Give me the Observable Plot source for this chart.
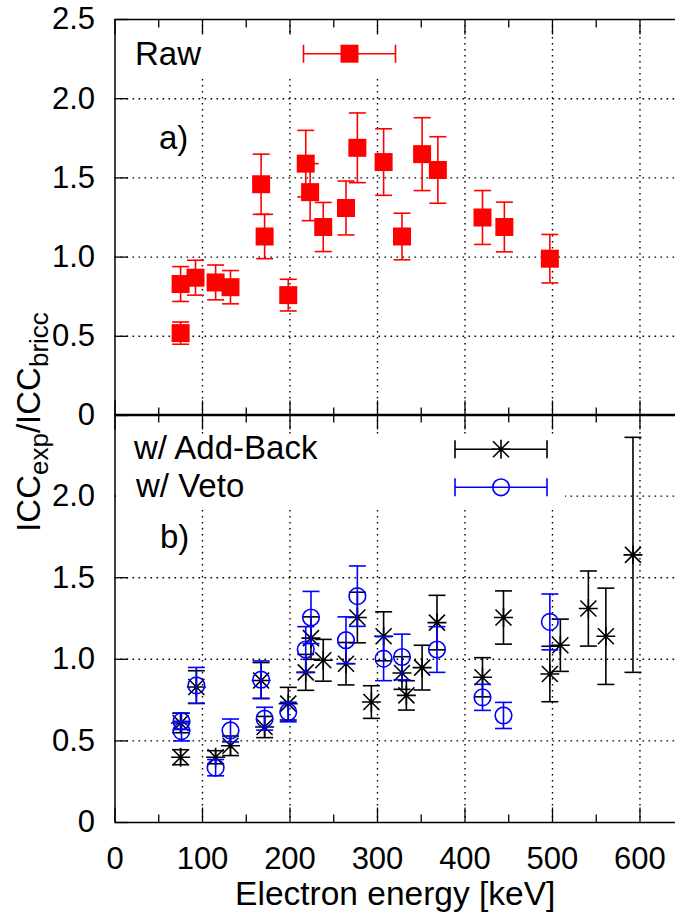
<!DOCTYPE html>
<html><head><meta charset="utf-8">
<script src="https://cdn.jsdelivr.net/npm/d3@7"></script>
<script src="https://cdn.jsdelivr.net/npm/@observablehq/plot@0.6"></script>
<style>
html,body{margin:0;padding:0;background:#fff;overflow:hidden;}
#wrap{position:relative;width:675px;height:920px;font-family:"Liberation Sans",Arial,sans-serif;}
#wrap > svg{position:absolute;left:0;}
</style></head><body><div id="wrap"></div>
<script>
// ---------- data ----------
// Panel a) Raw
const rawEnergy = [75, 75, 92, 115, 132, 167, 171, 198, 218, 223, 238, 264, 277, 307, 328, 351, 369, 420, 445, 497];
const rawValue  = [0.83, 0.52, 0.87, 0.84, 0.81, 1.46, 1.13, 0.76, 1.59, 1.41, 1.19, 1.31, 1.69, 1.60, 1.13, 1.65, 1.55, 1.25, 1.19, 0.99];
const rawError  = [0.11, 0.07, 0.11, 0.11, 0.105, 0.19, 0.14, 0.10, 0.21, 0.18, 0.155, 0.17, 0.22, 0.21, 0.147, 0.23, 0.21, 0.17, 0.157, 0.153];
// Panel b) w/ Add-Back
const addBackEnergy = [75, 75, 93, 115, 132, 167, 171, 198, 218, 224, 238, 264, 277, 293, 307, 328, 333, 351, 368, 420, 444, 497, 509, 541, 561, 592];
const addBackValue  = [0.61, 0.40, 0.83, 0.40, 0.47, 0.87, 0.585, 0.728, 0.92, 1.13, 0.994, 0.973, 1.256, 0.738, 1.141, 0.916, 0.779, 0.949, 1.225, 0.89, 1.256, 0.91, 1.086, 1.311, 1.141, 1.64];
const addBackError  = [0.06, 0.046, 0.10, 0.04, 0.06, 0.11, 0.065, 0.10, 0.11, 0.13, 0.128, 0.13, 0.155, 0.10, 0.15, 0.10, 0.09, 0.137, 0.167, 0.12, 0.163, 0.17, 0.16, 0.23, 0.295, 0.72];
// Panel b) w/ Veto
const vetoEnergy = [76, 76, 93, 115, 132, 167, 171, 198, 218, 224, 264, 277, 307, 328, 368, 420, 444, 497];
const vetoValue  = [0.62, 0.56, 0.84, 0.336, 0.564, 0.875, 0.636, 0.677, 1.06, 1.256, 1.117, 1.387, 1.004, 1.014, 1.06, 0.767, 0.656, 1.229];
const vetoError  = [0.05, 0.06, 0.11, 0.05, 0.07, 0.115, 0.07, 0.06, 0.14, 0.16, 0.143, 0.185, 0.135, 0.14, 0.14, 0.08, 0.08, 0.171];
// axes
const xMajorTicks = [0, 100, 200, 300, 400, 500, 600];
const xMinorTicks = [50, 150, 250, 350, 450, 550];
const yTicksTop = [0, 0.5, 1.0, 1.5, 2.0, 2.5];
const yTicksBottom = [0, 0.5, 1.0, 1.5, 2.0];
const xLabel = "Electron energy [keV]";
const seriesNames = ["Raw", "w/ Add-Back", "w/ Veto"];
const panelTags = ["a)", "b)"];

// ---------- helpers ----------
const FONT = '"Liberation Sans", Arial, sans-serif';
const FS = 31;
const W = 675;
const xDomain = [0, 640.6];
const yDomain = [0, 2.5];
const RED = "#ff0000", BLUE = "#0000ff", BLACK = "#000000";

const rows = (e, v, s) => e.map((d, i) => ({e: d, v: v[i], s: s[i]}));
const raw = rows(rawEnergy, rawValue, rawError);
const addBack = rows(addBackEnergy, addBackValue, addBackError);
const veto = rows(vetoEnergy, vetoValue, vetoError);

const sym = (fn) => ({draw(ctx) { fn(ctx); }});
const seg = (x1, y1, x2, y2) => sym(c => { c.moveTo(x1, y1); c.lineTo(x2, y2); });
const capSym = seg(-8.5, 0, 8.5, 0);
const squareSym = sym(c => { c.rect(-9, -9, 18, 18); });
const STAR_A = 9.5, STAR_B = 8;
const starSym = sym(c => {
  const a = STAR_A, b = STAR_B;
  c.moveTo(-a, 0); c.lineTo(a, 0); c.moveTo(0, -a); c.lineTo(0, a);
  c.moveTo(-b, -b); c.lineTo(b, b); c.moveTo(-b, b); c.lineTo(b, -b);
});

function errorMarks(data, color, marker, markerOpts) {
  return [
    Plot.ruleX(data, {x: "e", y1: d => d.v - d.s, y2: d => d.v + d.s, stroke: color, strokeWidth: 1.6}),
    Plot.dot(data, {x: "e", y: d => d.v + d.s, symbol: capSym, r: 1, stroke: color, strokeWidth: 1.6, fill: "none"}),
    Plot.dot(data, {x: "e", y: d => d.v - d.s, symbol: capSym, r: 1, stroke: color, strokeWidth: 1.6, fill: "none"}),
    Plot.dot(data, {x: "e", y: "v", symbol: marker, ...markerOpts})
  ];
}

function frameMarks(yTicks) {
  const grid = {stroke: BLACK, strokeWidth: 1.4, strokeDasharray: "1.6,4.4"};
  const tk = {stroke: BLACK, strokeWidth: 1.3, r: 1, fill: "none"};
  return [
    Plot.ruleX(xMajorTicks.filter(d => d > xDomain[0]), grid),
    Plot.ruleY(yTicks.filter(d => d > yDomain[0] && d < yDomain[1]), grid),
    Plot.ruleX([xDomain[0]], {stroke: BLACK, strokeWidth: 1.5}),
    Plot.ruleY(yDomain, {stroke: BLACK, strokeWidth: 1.5}),
    Plot.dot(xMajorTicks, {x: d => d, y: () => yDomain[0], symbol: seg(0, 0, 0, -15), ...tk}),
    Plot.dot(xMinorTicks, {x: d => d, y: () => yDomain[0], symbol: seg(0, 0, 0, -8), ...tk}),
    Plot.dot(xMajorTicks, {x: d => d, y: () => yDomain[1], symbol: seg(0, 0, 0, 15), ...tk}),
    Plot.dot(xMinorTicks, {x: d => d, y: () => yDomain[1], symbol: seg(0, 0, 0, 8), ...tk}),
    Plot.dot(yTicks, {x: () => xDomain[0], y: d => d, symbol: seg(0, 0, 13, 0), ...tk}),
    Plot.axisY({ticks: yTicks, tickSize: 0, tickPadding: 20, fontSize: FS, tickFormat: d => d === 0 ? "0" : d3.format(".1f")(d), label: null})
  ];
}

const styleObj = {fontFamily: FONT, fontSize: FS + "px", background: "transparent", overflow: "visible", color: "black", position: "absolute", left: "0px"};

// ---------- panel a ----------
const panelA = Plot.plot({
  width: W, height: 430,
  marginLeft: 114.5, marginRight: 0, marginTop: 19, marginBottom: 15,
  style: {...styleObj, top: "0px"},
  x: {domain: xDomain, axis: null},
  y: {domain: yDomain},
  marks: [
    ...frameMarks(yTicksTop),
    ...errorMarks(raw, RED, squareSym, {r: 1, fill: RED, stroke: "none"}),
    Plot.text([panelTags[0]], {text: d => d, frameAnchor: "top-left", dx: 44, dy: 106, textAnchor: "start", fontSize: 33, lineAnchor: "top"})
  ]
});

// ---------- panel b ----------
const panelB = Plot.plot({
  width: W, height: 520,
  marginLeft: 114.5, marginRight: 0, marginTop: 14, marginBottom: 98,
  style: {...styleObj, top: "400px"},
  x: {domain: xDomain},
  y: {domain: yDomain},
  marks: [
    ...frameMarks(yTicksBottom),
    ...errorMarks(addBack, BLACK, starSym, {r: 1, fill: "none", stroke: BLACK, strokeWidth: 1.6}),
    ...errorMarks(veto, BLUE, "circle", {r: 8.3, fill: "none", stroke: BLUE, strokeWidth: 1.6}),
    Plot.axisX({ticks: xMajorTicks, tickSize: 0, tickPadding: 24, fontSize: FS, tickFormat: d => String(d), label: null}),
    Plot.axisX({ticks: [], tickSize: 0, label: xLabel, labelAnchor: "center", labelArrow: "none", labelOffset: 82, fontSize: 33.5}),
    Plot.text([panelTags[1]], {text: d => d, frameAnchor: "top-left", dx: 45, dy: 110, textAnchor: "start", fontSize: 33, lineAnchor: "top"})
  ]
});

const wrap = document.getElementById("wrap");
wrap.appendChild(panelA);
wrap.appendChild(panelB);

// ---------- keys (opaque boxes) and y title ----------
const ov = d3.select(wrap).append("svg")
  .attr("width", W).attr("height", 920)
  .style("position", "absolute").style("top", "0px").style("left", "0px")
  .style("font-family", FONT).style("overflow", "visible");

function keyBox(x, y, w, h) {
  ov.append("rect").attr("x", x).attr("y", y).attr("width", w).attr("height", h).attr("fill", "white");
}
function keySample(cx, cy, color, drawMarker) {
  const g = ov.append("g").attr("stroke", color).attr("stroke-width", 1.6).attr("fill", "none");
  const L = 46, c = 9;
  g.append("path").attr("d", `M${cx - L},${cy}H${cx + L}M${cx - L},${cy - c}V${cy + c}M${cx + L},${cy - c}V${cy + c}`);
  drawMarker(g, cx, cy);
}
keyBox(116, 37, 298, 39);
ov.append("text").attr("x", 135).attr("y", 65).attr("font-size", 33).text(seriesNames[0]);
keySample(349.5, 53.7, RED, (g, x, y) => g.append("rect").attr("x", x - 9).attr("y", y - 9).attr("width", 18).attr("height", 18).attr("fill", RED).attr("stroke", "none"));

keyBox(116, 434, 449, 74);
ov.append("text").attr("x", 134).attr("y", 459).attr("font-size", 33).text(seriesNames[1]);
ov.append("text").attr("x", 136).attr("y", 497).attr("font-size", 33).text(seriesNames[2]);
keySample(501, 449.3, BLACK, (g, x, y) => g.append("path").attr("d", `M${x-STAR_A},${y}H${x+STAR_A}M${x},${y-STAR_A}V${y+STAR_A}M${x-STAR_B},${y-STAR_B}L${x+STAR_B},${y+STAR_B}M${x-STAR_B},${y+STAR_B}L${x+STAR_B},${y-STAR_B}`));
keySample(501, 487.3, BLUE, (g, x, y) => g.append("circle").attr("cx", x).attr("cy", y).attr("r", 8.3));

const yt = ov.append("text").attr("transform", "translate(40,422) rotate(-90)").attr("text-anchor", "middle").attr("font-size", 33);
yt.append("tspan").text("ICC");
yt.append("tspan").attr("dy", 8).attr("font-size", 26).text("exp");
yt.append("tspan").attr("dy", -8).text("/ICC");
yt.append("tspan").attr("dy", 8).attr("font-size", 26).text("bricc");
</script></body></html>
